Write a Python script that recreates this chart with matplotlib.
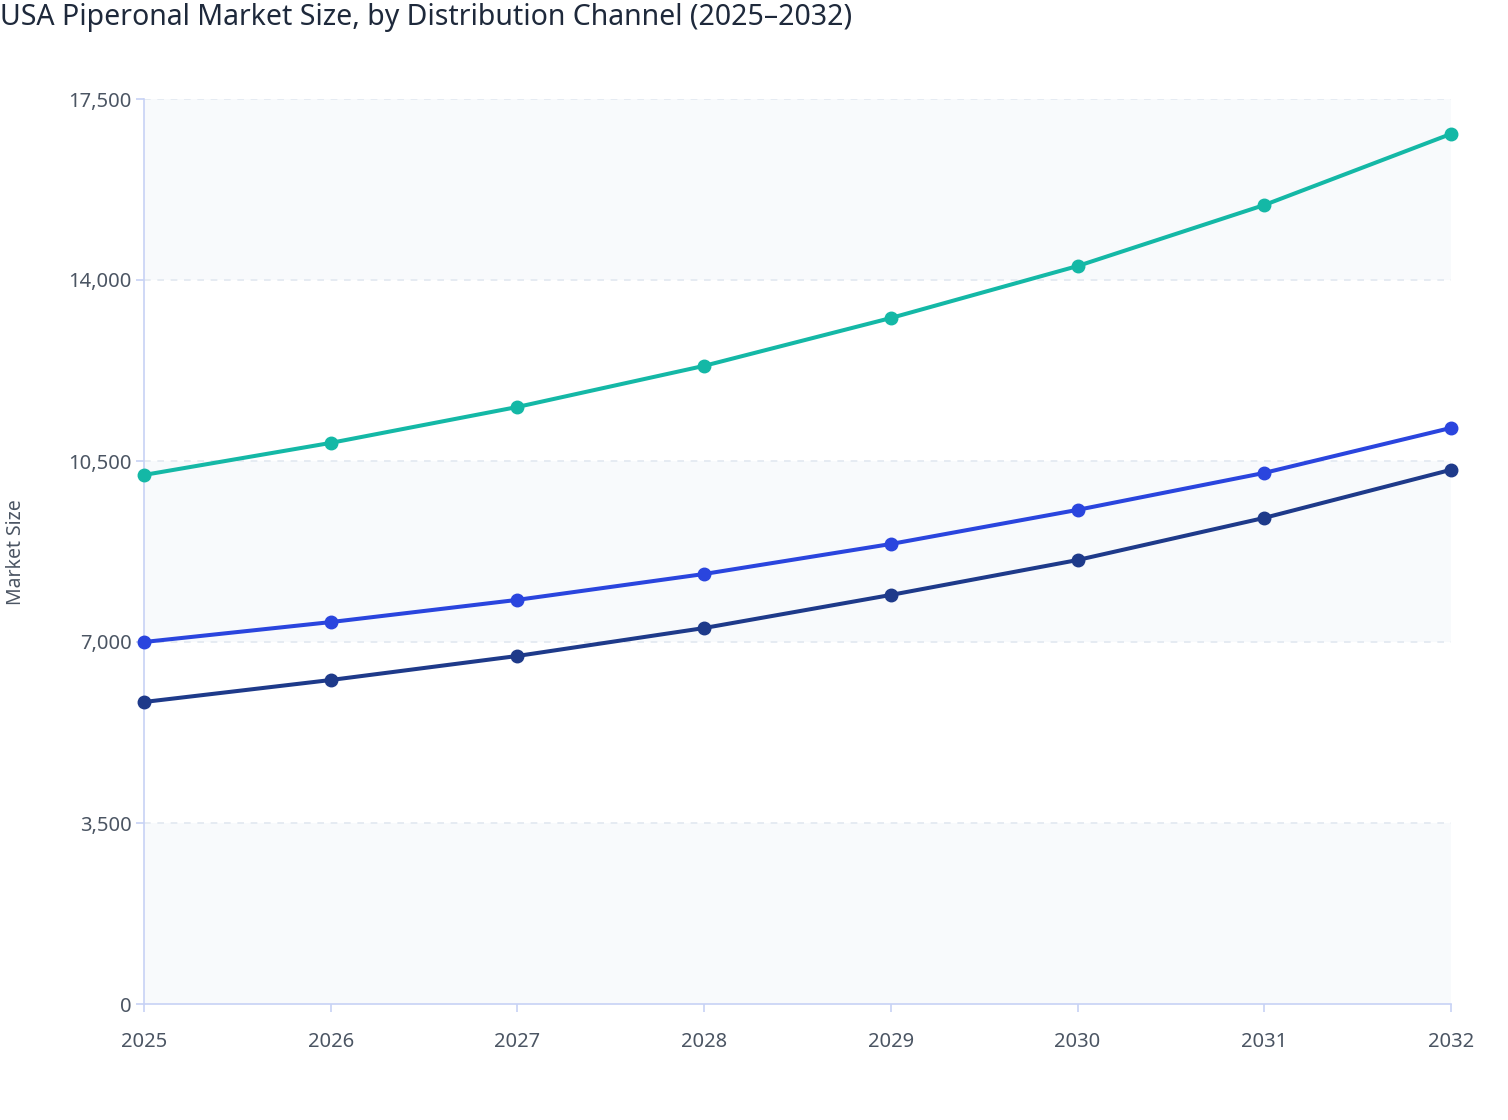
import matplotlib.pyplot as plt
from matplotlib.ticker import FuncFormatter

years = [2025, 2026, 2027, 2028, 2029, 2030, 2031, 2032]
teal_values = [10230, 10850, 11545, 12340, 13265, 14270, 15450, 16825]
blue_values = [7000, 7385, 7815, 8315, 8895, 9555, 10270, 11140]
navy_values = [5840, 6265, 6730, 7270, 7910, 8585, 9400, 10330]
y_ticks = [0, 3500, 7000, 10500, 14000, 17500]

series = [
    (teal_values, '#14B8A6'),
    (blue_values, '#2A45DE'),
    (navy_values, '#1E3A8A'),
]

plt.rcParams['font.family'] = ['Noto Sans', 'DejaVu Sans']

fig = plt.figure(figsize=(15.08, 11.2), dpi=100)
ax = fig.add_axes([144 / 1508, 116 / 1120, (1451 - 144) / 1508, (1004 - 99) / 1120])

# banded background
for i in range(0, len(y_ticks) - 1, 2):
    ax.axhspan(y_ticks[i], y_ticks[i + 1], color='#F8FAFC', zorder=0, lw=0)

for t in y_ticks[1:]:
    ax.axhline(t, color='#E2E8F0', lw=1.2, ls=(0, (4, 4)), zorder=1)

for values, color in series:
    ax.plot(years, values, color=color, lw=2.9, marker='o', markersize=9,
            zorder=3, clip_on=False)

ax.set_xlim(2025, 2032)
ax.set_ylim(0, 17500)
ax.set_xticks(years)
ax.set_yticks(y_ticks)
ax.yaxis.set_major_formatter(FuncFormatter(lambda v, p: f'{int(v):,}'))

for side in ['top', 'right']:
    ax.spines[side].set_visible(False)
for side in ['left', 'bottom']:
    ax.spines[side].set_color('#C7D2F5')
    ax.spines[side].set_linewidth(1.2)

ax.tick_params(axis='both', colors='#C7D2F5', labelcolor='#4B5563',
               labelsize=14.5, length=6, width=1.2)
ax.tick_params(axis='x', pad=14)
ax.tick_params(axis='y', pad=3)

fig.text(16 / 1508, 1 - 552 / 1120, 'Market Size', fontsize=14, color='#4B5563',
         rotation=90, ha='center', va='center')

fig.text(0.0, 1 - 18 / 1120, 'USA Piperonal Market Size, by Distribution Channel (2025\u20132032)',
         fontsize=20.5, color='#1E293B', fontweight='medium', ha='left', va='center')

plt.savefig('out.png', dpi=100, facecolor='white')
